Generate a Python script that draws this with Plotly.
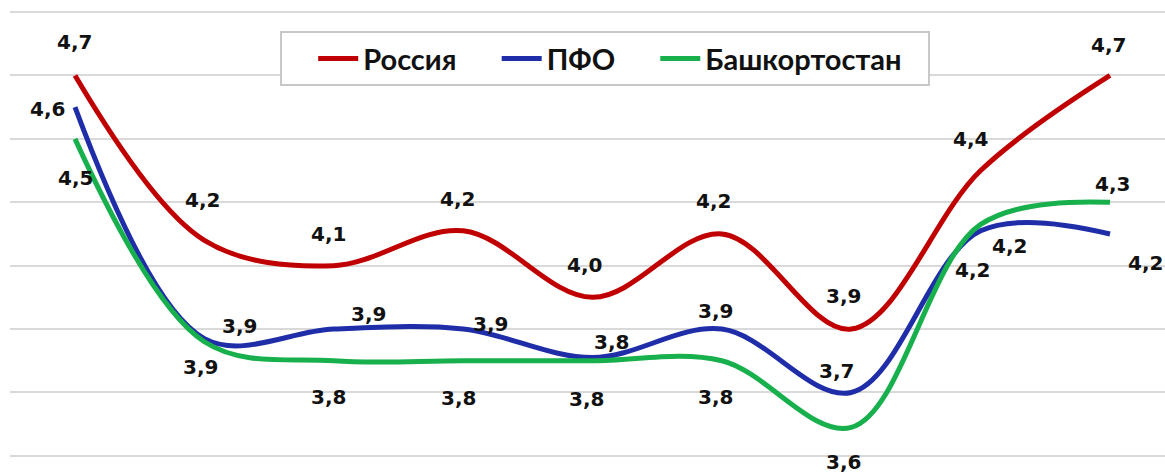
import plotly.graph_objects as go

categories = list(range(9))
series_names = ["Россия", "ПФО", "Башкортостан"]
russia = [4.70, 4.18, 4.10, 4.21, 4.00, 4.20, 3.90, 4.40, 4.70]
pfo = [4.60, 3.87, 3.90, 3.90, 3.81, 3.90, 3.70, 4.21, 4.20]
bashkortostan = [4.50, 3.86, 3.80, 3.80, 3.80, 3.80, 3.59, 4.23, 4.30]

colors = ["#c00000", "#1f2ea8", "#17b04c"]

# label offsets (pixels) per point: (xshift, yshift)
offsets = [
    [(-1, 33), (-2, 40), (-5, 32), (-6, 32), (-8, 32), (-8, 33), (-8, 33), (-10, 32), (-2, 30)],
    [(-28, -2), (35, 13), (35, 15), (27, 5), (19, 16), (-6, 18), (-15, 21), (29, -15), (35, -29)],
    [(0, -39), (-4, -25), (-5, -36), (-5, -37), (-6, -38), (-6, -36), (-8, -35), (-8, -46), (2, 18)],
]
# invisible padding after legend names (spacing only)
legend_pad = ["\u00a0" * 5, "\u00a0" * 5, "\u00a0" * 3]

label_font = "'DejaVu Sans', sans-serif"
legend_font = "Lato, 'DejaVu Sans', sans-serif"

fig = go.Figure()
annotations = []
for name, vals, col, offs, pad in zip(series_names, [russia, pfo, bashkortostan], colors, offsets, legend_pad):
    fig.add_trace(go.Scatter(
        x=categories, y=vals, mode="lines", name=name + pad,
        line=dict(color=col, width=5, shape="spline", smoothing=1.0),
        hoverinfo="skip",
    ))
    for xi, v, (dx, dy) in zip(categories, vals, offs):
        annotations.append(dict(
            x=xi, y=v, xref="x", yref="y", showarrow=False,
            text=f"<b>{v:.1f}</b>".replace(".", ","),
            xshift=dx, yshift=dy, xanchor="center", yanchor="middle",
            font=dict(size=20, color="#111111", family=label_font),
        ))

fig.update_layout(
    width=1165, height=473,
    margin=dict(l=10, r=0, t=0, b=0),
    paper_bgcolor="white", plot_bgcolor="white",
    showlegend=True,
    legend=dict(
        orientation="h", x=0.2338, y=0.934, xanchor="left", yanchor="top",
        bordercolor="#c8c8c8", borderwidth=2, bgcolor="white",
        font=dict(size=29, color="#111111", family=legend_font, weight="bold"),
        title=dict(text="\u00a0\u00a0\u00a0", font=dict(size=29, family=legend_font)),
        itemwidth=40, tracegroupgap=0,
    ),
    annotations=annotations,
    xaxis=dict(range=[-0.5024, 8.425], showgrid=False, zeroline=False,
               showticklabels=False, showline=False, ticks=""),
    yaxis=dict(range=[3.446, 4.938], showgrid=True, gridcolor="#d9d9d9", gridwidth=1.5,
               tick0=3.5, dtick=0.2, zeroline=False, showticklabels=False,
               showline=False, ticks=""),
)

fig.write_html("out.html", post_script="document.body.style.margin='0';",
               config={"displayModeBar": False})
